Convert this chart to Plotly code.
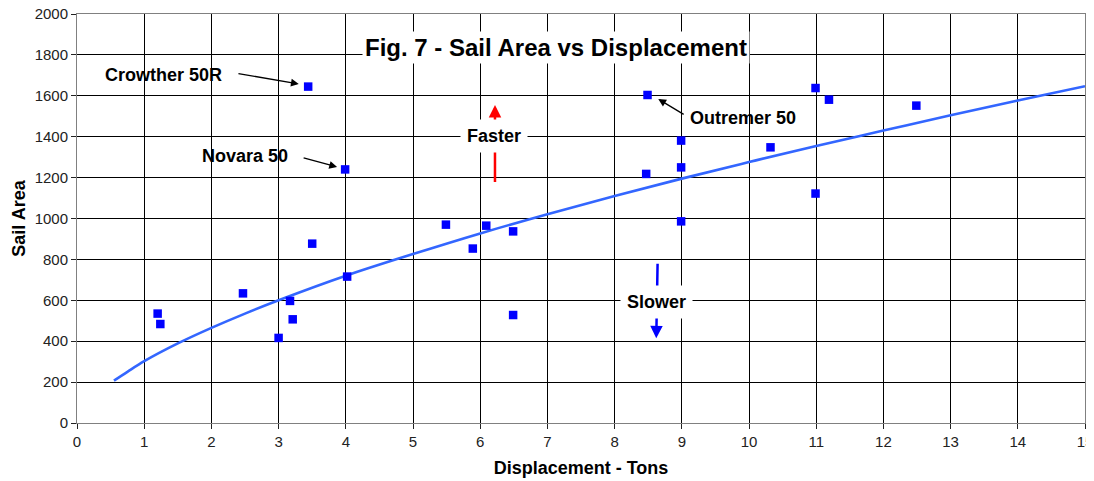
import plotly.graph_objects as go

# Data
displacement = [1.20, 1.24, 2.47, 3.00, 3.17, 3.21, 3.44, 3.50, 3.99, 4.02,
                5.49, 5.89, 6.09, 6.49, 6.49, 8.47, 8.49, 8.99, 8.99, 8.99,
                10.32, 10.99, 10.99, 11.19, 12.49]
sail_area = [535, 484, 634, 416, 597, 507, 1645, 877, 1240, 716,
             970, 853, 965, 937, 528, 1218, 1604, 1381, 1250, 986,
             1348, 1638, 1122, 1581, 1552]

# Power trendline
trend_x = [0.55, 0.75, 1, 1.5, 2, 2.5, 3, 4, 5, 6, 7, 8, 9, 10, 11, 12, 13, 14, 15]
trend_y = [207, 250, 302, 389, 465, 535, 600, 720, 826, 927, 1021, 1110, 1195, 1276, 1355, 1430, 1505, 1577, 1647]

x_ticks = list(range(0, 16))
y_ticks = list(range(0, 2001, 200))

FONT = "Liberation Sans, Arial, sans-serif"

fig = go.Figure()
fig.add_trace(go.Scatter(
    x=trend_x, y=trend_y, mode="lines", line=dict(color="#3366FF", width=2.6, shape="spline"),
    hoverinfo="skip", showlegend=False))
fig.add_trace(go.Scatter(
    x=displacement, y=sail_area, mode="markers",
    marker=dict(symbol="square", size=8.5, color="#0000FF"), showlegend=False))

anns = []
# arrows (drawn first so text boxes cover them)
def arrow(x0, y0, x1, y1, color="black", head=2, size=1.2, width=1.3):
    anns.append(dict(x=x1, y=y1, ax=x0, ay=y0, xref="x", yref="y", axref="x", ayref="y",
                     text="", showarrow=True, arrowhead=head, arrowsize=size,
                     arrowwidth=width, arrowcolor=color))

arrow(2.38, 1710, 3.30, 1658)
arrow(3.35, 1299, 3.87, 1252)
arrow(9.05, 1505, 8.65, 1584)
arrow(6.22, 1171, 6.22, 1555, color="#FF0000", head=2, size=1.0, width=2.5)
arrow(8.64, 786, 8.62, 414, color="#0000FF", head=2, size=1.0, width=2.5)

def label(x, y, text, size=18, bg=None, pad=4):
    d = dict(x=x, y=y, xref="x", yref="y", text="<b>%s</b>" % text, showarrow=False,
             font=dict(family=FONT, size=size, color="black"))
    if bg:
        d.update(bgcolor=bg, borderpad=pad)
    anns.append(d)

label(1.28, 1700, "Crowther 50R")
label(2.50, 1304, "Novara 50")
label(9.91, 1490, "Outremer 50")
label(6.21, 1402, "Faster", bg="white", pad=6)
label(8.62, 590, "Slower", bg="white", pad=6)
label(7.13, 1837, "Fig. 7 - Sail Area vs Displacement", size=24, bg="white", pad=2)

# The page body adds an 8px offset; size the figure so the plot area lands where the reference has it
fig.update_layout(
    width=1086, height=473,
    margin=dict(l=69, r=9, t=6, b=58, autoexpand=False),
    paper_bgcolor="white", plot_bgcolor="white",
    font=dict(family=FONT, size=15, color="#222"),
    annotations=anns,
    xaxis=dict(range=[0, 15], tickvals=x_ticks, ticktext=[str(v) for v in x_ticks],
               showgrid=True, gridcolor="#000", gridwidth=1, automargin=False,
               ticklabeloverflow="allow",
               showline=True, linecolor="#808080", linewidth=1, mirror=True,
               ticks="outside", ticklen=5, tickcolor="#222", zeroline=False,
               title=dict(text="<b>Displacement - Tons</b>", font=dict(size=18, color="black"), standoff=12)),
    yaxis=dict(range=[0, 2000], tickvals=y_ticks, ticktext=[str(v) for v in y_ticks],
               showgrid=True, gridcolor="#000", gridwidth=1, automargin=False,
               ticklabeloverflow="allow",
               showline=True, linecolor="#808080", linewidth=1, mirror=True,
               ticks="outside", ticklen=5, tickcolor="#222", zeroline=True, zerolinecolor="#111",
               title=dict(text="<b>Sail Area</b>", font=dict(size=18, color="black"), standoff=4)),
)

fig.write_html("out.html")
